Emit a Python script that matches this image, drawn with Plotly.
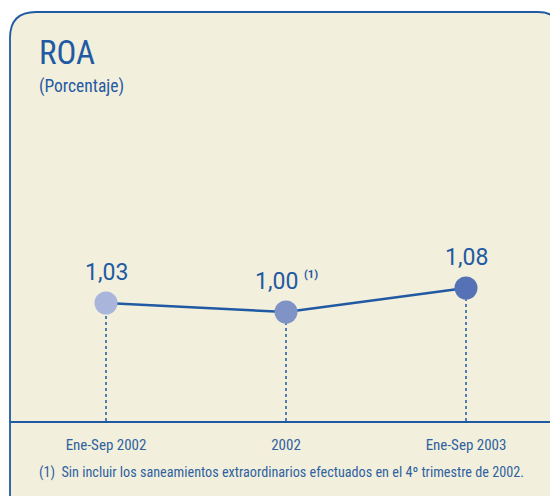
import plotly.graph_objects as go

# Data
periods = ['Ene-Sep 2002', '2002', 'Ene-Sep 2003']
roa = [1.03, 1.00, 1.08]
roa_labels = ['1,03', '1,00', '1,08']
label_notes = ['', '(1)', '']
marker_colors = ['#AAB5DB', '#8093C7', '#5572B6']
footnote = '(1)  Sin incluir los saneamientos extraordinarios efectuados en el 4º trimestre de 2002.'

W, H = 550, 496
BLUE = '#1F5AA3'
TEXT2 = '#2F62A0'
CREAM = '#F2EFDC'
NARROW = 'Roboto Condensed, sans-serif'

# pixel -> paper helpers (plot area: x 10..550, y 121..421)
def px(x):
    return (x - 10) / 540

def py(y):
    return (421 - y) / 300

x_idx = list(range(len(periods)))

fig = go.Figure()
fig.add_trace(go.Scatter(
    x=x_idx, y=roa, mode='lines+markers',
    line=dict(color=BLUE, width=2.5),
    marker=dict(size=23, color=marker_colors, line=dict(width=0)),
    hoverinfo='skip', showlegend=False,
))

# panel with rounded corners
r = 26
panel = (f'M {px(10)},{py(12 + r)} '
         f'Q {px(10)},{py(12)} {px(10 + r)},{py(12)} '
         f'L {px(538)},{py(12)} '
         f'Q {px(560)},{py(12)} {px(560)},{py(34)} '
         f'L {px(560)},{py(520)} '
         f'L {px(10 + r)},{py(520)} '
         f'Q {px(10)},{py(520)} {px(10)},{py(520 - r)} Z')
shapes = [dict(type='path', path=panel, xref='paper', yref='paper',
               fillcolor=CREAM, line=dict(color=BLUE, width=1.8), layer='below')]

ymin = 1.00 - (421 - 312) / 300
for i, v in zip(x_idx, roa):
    shapes.append(dict(type='line', xref='x', yref='y', x0=i, x1=i, y0=ymin, y1=v,
                       line=dict(color=BLUE, width=1.5, dash='3px,3px'), layer='below'))

annotations = [
    dict(text='ROA', x=px(37), y=py(52), xref='paper', yref='paper', xanchor='left',
         yanchor='middle', showarrow=False,
         font=dict(family=NARROW, size=33, color=BLUE)),
    dict(text='(Porcentaje)', x=px(37), y=py(86), xref='paper', yref='paper', xanchor='left',
         yanchor='middle', showarrow=False,
         font=dict(family=NARROW, size=17.5, color=BLUE)),
    dict(text=footnote, x=px(37), y=py(472), xref='paper', yref='paper', xanchor='left',
         yanchor='middle', showarrow=False,
         font=dict(family=NARROW, size=14.2, color=TEXT2)),
]
for i, v, lab, note in zip(x_idx, roa, roa_labels, label_notes):
    shift = -10 if note else 0
    annotations.append(dict(text=lab, x=i, y=v, xref='x', yref='y', showarrow=False,
                            xshift=shift, yshift=31,
                            font=dict(family='Roboto, sans-serif', size=23, color=BLUE)))
    if note:
        annotations.append(dict(text=note, x=i, y=v, xref='x', yref='y', showarrow=False,
                                xshift=25, yshift=38,
                                font=dict(family='Roboto, sans-serif', size=11, color=BLUE,
                                          weight='bold')))

fig.update_layout(
    width=W, height=H,
    margin=dict(l=10, r=0, t=121, b=75),
    paper_bgcolor='white', plot_bgcolor='rgba(0,0,0,0)',
    shapes=shapes, annotations=annotations,
    xaxis=dict(range=[-96 / 180, 444 / 180], tickvals=x_idx, ticktext=periods,
               showgrid=False, zeroline=False, showline=True, linecolor=BLUE, linewidth=1.5,
               ticks='', ticklabelstandoff=9,
               tickfont=dict(family=NARROW, size=15, color=TEXT2, weight='normal')),
    yaxis=dict(range=[ymin, ymin + 1], visible=False),
)

fig.write_html('out.html', config={'displayModeBar': False},
               post_script="document.body.style.margin='0';")
